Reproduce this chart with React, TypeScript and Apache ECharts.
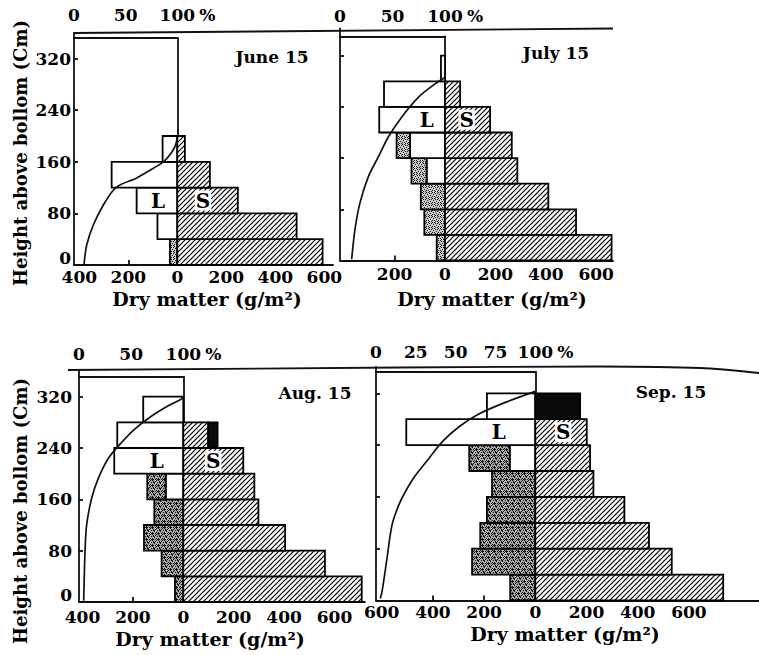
import React, { useEffect, useRef } from "react";
import * as echarts from "echarts";

// ---------- data (dry matter g/m2 per 40 cm layer, bottom layer first) ----------
const layerBottoms = [0, 40, 80, 120, 160, 200, 240, 280];
const layerThickness = 40;

const juneLive = [0, 81, 166, 268, 60];
const juneDead = [30, 0, 0, 0, 0];
const juneStem = [593, 487, 247, 133, 31];
const juneEar = [0, 0, 0, 0, 0];
const juneLightHeight = [1, 31, 62, 93, 116, 124, 135, 150, 160, 171, 184, 197];
const juneLightPct = [9.7, 12.3, 18.7, 28.4, 38, 44.5, 60.7, 76.8, 86.5, 92.9, 97.8, 100];

const julyLive = [0, 0, 0, 73, 139, 261, 242, 16];
const julyDead = [33, 82, 96, 60, 53, 0, 0, 0];
const julyStem = [661, 520, 410, 287, 265, 179, 60, 0];
const julyEar = [0, 0, 0, 0, 0, 0, 0, 0];
const julyLightHeight = [2, 49, 90, 131, 162, 193, 224, 255, 276, 286];
const julyLightPct = [11.1, 14.3, 19, 27, 36.5, 46, 58.7, 74.6, 90.5, 100];

const augLive = [0, 0, 0, 0, 70, 274, 262, 159];
const augDead = [33, 86, 156, 115, 73, 0, 0, 0];
const augStem = [708, 562, 404, 298, 282, 238, 99, 0];
const augEar = [0, 0, 0, 0, 0, 0, 37, 0];
const augLightHeight = [2, 80, 121, 162, 193, 224, 249, 270, 290, 306, 316, 320];
const augLightPct = [4.5, 5.8, 7.4, 12.2, 18.6, 28.2, 41, 53.7, 69.7, 85.6, 97.8, 100];

const sepLive = [0, 0, 0, 0, 0, 100, 504, 189];
const sepDead = [98, 247, 215, 189, 169, 158, 0, 0];
const sepStem = [734, 533, 444, 348, 227, 214, 201, 0];
const sepEar = [0, 0, 0, 0, 0, 0, 0, 175];
const sepLightHeight = [3, 14, 65, 116, 147, 168, 193, 219, 245, 268, 288, 306, 323];
const sepLightPct = [2.7, 3.8, 6.9, 10, 14.2, 18.4, 24.7, 33.1, 41.5, 51.9, 64.5, 81.2, 100];

const dateLabels = ["June 15", "July 15", "Aug. 15", "Sep. 15"];
const heightTicks = [0, 80, 160, 240, 320];
const pctTicksA = [0, 50, 100];
const pctTicksB = [0, 25, 50, 75, 100];
const dryTicks = [
  [-400, -200, 0, 200, 400, 600],
  [-200, 0, 200, 400, 600],
  [-400, -200, 0, 200, 400, 600],
  [-600, -400, -200, 0, 200, 400, 600],
];
const dryInnerTicks = [[-200], [-200], [-200], [-400, -200]];

// ---------- layout (pixels) ----------
const layouts = [
  { leftX: 74, zeroX: 177.3, rightX: 333, bottomY: 265, boxTopY: 38, lineTopY: 33, cm: 0.645, unit: 0.245, dark: false,
    xLabMargin: 3, pctMargin: 15, showY: true, yLabMargin: 3, date: [272, 57], title: [207, 299], lRow: 2, lx: -79, sx: 105 },
  { leftX: 340, zeroX: 445, rightX: 613, bottomY: 260.5, boxTopY: 36.5, lineTopY: 28.5, cm: 0.64, unit: 0.252, dark: false,
    xLabMargin: 5, pctMargin: 12, showY: false, yLabMargin: 3, date: [556, 53], title: [492, 299], lRow: 5, lx: -72, sx: 86 },
  { leftX: 79, zeroX: 183.3, rightX: 365, bottomY: 602, boxTopY: 376.7, lineTopY: 370, cm: 0.6416, unit: 0.252, dark: true,
    xLabMargin: 6, pctMargin: 14, showY: true, yLabMargin: 7, date: [315, 393], title: [210, 639], lRow: 5, lx: -105, sx: 119 },
  { leftX: 376, zeroX: 535.3, rightX: 759, bottomY: 600.5, boxTopY: 371.7, lineTopY: 367, cm: 0.6475, unit: 0.256, dark: true,
    xLabMargin: 3, pctMargin: 11, showY: false, yLabMargin: 3, date: [671, 392], title: [565, 634], lRow: 6, lx: -143, sx: 109 },
];

const FONT = '"DejaVu Serif", serif';
const INK = "#111";

function makeTile(size: number, draw: (g: CanvasRenderingContext2D) => void): string {
  const c = document.createElement("canvas");
  c.width = size;
  c.height = size;
  const g = c.getContext("2d") as CanvasRenderingContext2D;
  draw(g);
  return c.toDataURL();
}

function barItems(live: number[], dead: number[], stem: number[], ear: number[]) {
  const out: number[][] = [];
  live.forEach((_, i) => {
    const lo = layerBottoms[i];
    const hi = lo + layerThickness;
    if (live[i] > 0) out.push([lo, hi, 0, -live[i], 0]);
    if (dead[i] > 0) out.push([lo, hi, -live[i], -(live[i] + dead[i]), 1]);
    if (stem[i] > 0) out.push([lo, hi, 0, stem[i], 2]);
    if (ear[i] > 0) out.push([lo, hi, stem[i], stem[i] + ear[i], 3]);
  });
  return out;
}

function buildOption() {
  const hatch = makeTile(5, (g) => {
    g.fillStyle = "#fff";
    g.fillRect(0, 0, 5, 5);
    g.strokeStyle = "#000";
    g.lineWidth = 1.2;
    g.beginPath();
    g.moveTo(-1, 6); g.lineTo(6, -1);
    g.moveTo(-1, 1); g.lineTo(1, -1);
    g.moveTo(4, 6); g.lineTo(6, 4);
    g.stroke();
  });
  const dots = [[0, 0], [3, 1], [1, 2], [4, 3], [2, 4], [5, 5], [0, 4], [3, 5], [5, 1], [2, 0]];
  const stippleLight = makeTile(6, (g) => {
    g.fillStyle = "#c8c8c8";
    g.fillRect(0, 0, 6, 6);
    g.fillStyle = "#1a1a1a";
    dots.forEach(([x, y]) => g.fillRect(x, y, 1, 1));
  });
  const stippleDark = makeTile(6, (g) => {
    g.fillStyle = "#a8a8a8";
    g.fillRect(0, 0, 6, 6);
    g.fillStyle = "#111";
    dots.forEach(([x, y]) => g.fillRect(x, y, 1, 1));
    g.fillRect(1, 5, 2, 1);
    g.fillRect(3, 2, 2, 1);
  });
  const hatchFill = { image: hatch, repeat: "repeat", imageWidth: 5, imageHeight: 5 };
  const fillSets: any[][] = [
    ["#fff", { image: stippleLight, repeat: "repeat", imageWidth: 6, imageHeight: 6 }, hatchFill, "#0a0a0a"],
    ["#fff", { image: stippleDark, repeat: "repeat", imageWidth: 6, imageHeight: 6 }, hatchFill, "#0a0a0a"],
  ];

  const panels = [
    { bars: barItems(juneLive, juneDead, juneStem, juneEar), h: juneLightHeight, p: juneLightPct, pct: pctTicksA },
    { bars: barItems(julyLive, julyDead, julyStem, julyEar), h: julyLightHeight, p: julyLightPct, pct: pctTicksA },
    { bars: barItems(augLive, augDead, augStem, augEar), h: augLightHeight, p: augLightPct, pct: pctTicksA },
    { bars: barItems(sepLive, sepDead, sepStem, sepEar), h: sepLightHeight, p: sepLightPct, pct: pctTicksB },
  ];

  const grid: any[] = [];
  const xAxis: any[] = [];
  const yAxis: any[] = [];
  const series: any[] = [];
  const lineStyle = { color: INK, width: 1.8 };
  const labelBase = { color: "#000", fontFamily: FONT, fontSize: 17, fontWeight: "bold" as const };
  const showAll = { showMinLabel: true, showMaxLabel: true, hideOverlap: false };

  const makeRenderBar = (fills: any[]) => (params: any, api: any) => {
    const a = api.coord([api.value(2), api.value(0)]);
    const b = api.coord([api.value(3), api.value(1)]);
    return {
      type: "rect",
      shape: { x: Math.min(a[0], b[0]), y: Math.min(a[1], b[1]), width: Math.abs(b[0] - a[0]), height: Math.abs(b[1] - a[1]) },
      style: { fill: fills[api.value(4)], stroke: "#000", lineWidth: 1.8 },
    };
  };
  const renderLS = (params: any, api: any) => {
    const p = api.coord([api.value(0), api.value(1)]);
    const isS = api.value(2) === 1;
    return {
      type: "text",
      x: p[0],
      y: p[1],
      style: {
        text: isS ? "S" : "L",
        font: `bold 20px ${FONT}`,
        fill: "#000",
        align: "center",
        verticalAlign: "middle",
        textAlign: "center",
        textVerticalAlign: "middle",
        backgroundColor: isS ? "#fff" : "transparent",
        padding: [0, 1],
      },
    };
  };

  panels.forEach((pn, i) => {
    const L = layouts[i];
    const xMin = -(L.zeroX - L.leftX) / L.unit;
    const xMax = (L.rightX - L.zeroX) / L.unit;
    const yMaxMain = (L.bottomY - L.lineTopY) / L.cm;
    const yMaxBox = (L.bottomY - L.boxTopY) / L.cm;
    const gMain = grid.length;
    grid.push({ left: L.leftX, top: L.lineTopY, width: L.rightX - L.leftX, height: L.bottomY - L.lineTopY, containLabel: false, outerBoundsMode: "none" });
    const gPct = grid.length;
    grid.push({ left: L.leftX, top: L.boxTopY, width: L.zeroX - L.leftX, height: L.bottomY - L.boxTopY, containLabel: false, outerBoundsMode: "none" });

    const xMainIdx = xAxis.length;
    xAxis.push({
      gridIndex: gMain, type: "value", position: "bottom", min: xMin, max: xMax,
      axisLine: { show: true, onZero: false, lineStyle },
      axisTick: { show: true, inside: true, length: 5, customValues: dryInnerTicks[i], lineStyle },
      axisLabel: { ...labelBase, ...showAll, margin: L.xLabMargin, customValues: dryTicks[i], formatter: (v: number) => String(Math.abs(Math.round(v))) },
      splitLine: { show: false },
    });
    const xPctIdx = xAxis.length;
    xAxis.push({
      gridIndex: gPct, type: "value", position: "top", min: 0, max: 100,
      axisLine: { show: true, onZero: false, lineStyle },
      axisTick: { show: false },
      axisLabel: { ...labelBase, ...showAll, margin: L.pctMargin, customValues: pn.pct, formatter: (v: number) => String(v) },
      splitLine: { show: false },
    });
    const yMainIdx = yAxis.length;
    yAxis.push({
      gridIndex: gMain, type: "value", position: "left", min: 0, max: yMaxMain,
      axisLine: { show: true, onZero: false, lineStyle },
      axisTick: { show: true, inside: true, length: 4, customValues: heightTicks.slice(1), lineStyle },
      axisLabel: {
        show: L.showY, ...labelBase, ...showAll, margin: L.yLabMargin, customValues: heightTicks,
        formatter: (v: number) => (v === 0 ? "{z|0}" : String(v)),
        rich: { z: { ...labelBase, padding: [0, 0, 14, 0] } },
      },
      splitLine: { show: false },
    });
    const yPctIdx = yAxis.length;
    yAxis.push({
      gridIndex: gPct, type: "value", position: "right", min: 0, max: yMaxBox,
      axisLine: { show: true, onZero: false, lineStyle },
      axisTick: { show: false },
      axisLabel: { show: false },
      splitLine: { show: false },
    });

    series.push({
      type: "custom", name: dateLabels[i] + " dry matter", xAxisIndex: xMainIdx, yAxisIndex: yMainIdx,
      renderItem: makeRenderBar(fillSets[L.dark ? 1 : 0]), data: pn.bars, encode: { x: [2, 3], y: [0, 1] }, clip: false, silent: true, z: 2,
    });
    series.push({
      type: "line", name: dateLabels[i] + " light", xAxisIndex: xPctIdx, yAxisIndex: yPctIdx,
      data: pn.p.map((v, k) => [v, pn.h[k]]), smooth: 0.3, symbol: "none", showSymbol: false,
      lineStyle: { color: INK, width: 1.7 }, clip: false, silent: true, z: 6,
    });
    const mid = layerBottoms[L.lRow] + layerThickness / 2;
    series.push({
      type: "custom", name: dateLabels[i] + " L/S", xAxisIndex: xMainIdx, yAxisIndex: yMainIdx,
      renderItem: renderLS, data: [[L.lx, mid, 0], [L.sx, mid, 1]], clip: false, silent: true, z: 7,
    });
  });

  const textStyle = (text: string, size: number) => ({
    text, font: `bold ${size}px ${FONT}`, fill: "#000",
    align: "center", verticalAlign: "middle", textAlign: "center", textVerticalAlign: "middle",
  });
  const graphic: any[] = [
    { type: "polyline", shape: { points: [[74, 33], [613, 28.5]] }, style: { stroke: INK, lineWidth: 1.8, fill: "none" }, silent: true },
    { type: "polyline", shape: { points: [[68, 370], [400, 367.5], [600, 366.5], [700, 368], [759, 373]], smooth: 0.3 }, style: { stroke: INK, lineWidth: 1.8, fill: "none" }, silent: true },
    { type: "text", x: 20, y: 153, rotation: Math.PI / 2, style: textStyle("Height above bollom (Cm)", 18), silent: true },
    { type: "text", x: 20, y: 511, rotation: Math.PI / 2, style: textStyle("Height above bollom (Cm)", 18), silent: true },
  ];
  layouts.forEach((L, i) => {
    graphic.push({ type: "text", x: L.date[0], y: L.date[1], style: textStyle(dateLabels[i], 17), silent: true });
    graphic.push({ type: "text", x: L.title[0], y: L.title[1], style: textStyle("Dry matter (g/m²)", 19), silent: true });
    graphic.push({ type: "text", x: L.zeroX + 30, y: L.boxTopY - L.pctMargin - 8.5, style: textStyle("%", 17), silent: true });
  });

  return { animation: false, backgroundColor: "#fff", grid, xAxis, yAxis, series, graphic };
}

export default function App() {
  const ref = useRef<HTMLDivElement>(null);
  useEffect(() => {
    if (!ref.current) return;
    const chart = echarts.init(ref.current, null, { renderer: "svg" });
    chart.setOption(buildOption() as any);
    return () => chart.dispose();
  }, []);
  return <div ref={ref} style={{ position: "fixed", left: 0, top: 0, width: 759, height: 655, background: "#fff" }} />;
}
